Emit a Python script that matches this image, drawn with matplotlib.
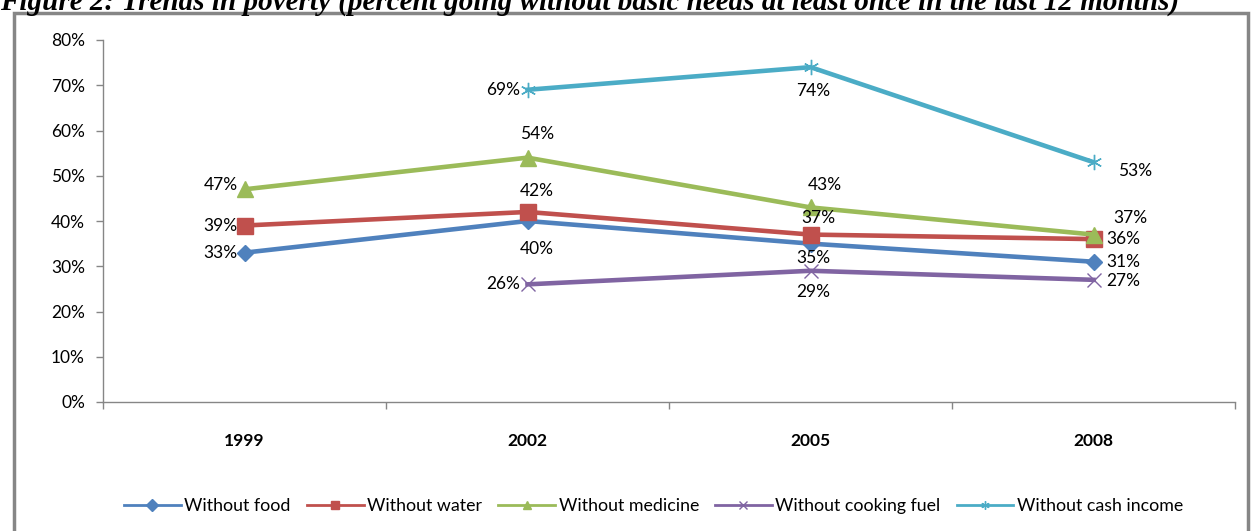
import numpy as np
import matplotlib.pyplot as plt
from matplotlib.patches import Rectangle

years = ["1999", "2002", "2005", "2008"]
series_names = ["Without food", "Without water", "Without medicine",
                "Without cooking fuel", "Without cash income"]
food = [33, 40, 35, 31]
water = [39, 42, 37, 36]
medicine = [47, 54, 43, 37]
cooking_fuel = [np.nan, 26, 29, 27]
cash_income = [np.nan, 69, 74, 53]
y_ticks = [0, 10, 20, 30, 40, 50, 60, 70, 80]

colors = ["#4F81BD", "#C0504D", "#9BBB59", "#8064A2", "#4BACC6"]
markers = ["D", "s", "^", "x", (6, 2, 0)]
msizes = [8, 11, 11, 10, 11]

# label offsets (points) per series, per year
label_pos = [
    [(-5, 0, "right"), (7, -20, "center"), (2, -10, "center"), (9, 0, "left")],
    [(-5, 0, "right"), (7, 15, "center"), (6, 12, "center"), (9, 0, "left")],
    [(-5, 3, "right"), (7, 17, "center"), (10, 16, "center"), (14, 12, "left")],
    [None, (-5, 0, "right"), (2, -15, "center"), (9, -1, "left")],
    [None, (-5, 0, "right"), (2, -17, "center"), (18, -6, "left")],
]

plt.rcParams["font.family"] = ["Lato", "DejaVu Sans"]

fig = plt.figure(figsize=(12.52, 5.31), dpi=100)
W, H = 1252, 531

# outer chart border
fig.patches.append(Rectangle((14 / W, -0.1), (1248 - 14) / W, (H - 13) / H + 0.1,
                             transform=fig.transFigure, fill=False,
                             edgecolor="#868686", linewidth=2.5))
# title is cropped at the top edge, as in the original page scan
fig.text(0, 1 - 10 / H, "Figure 2: Trends in poverty (percent going without basic needs "
         "at least once in the last 12 months)", family="Liberation Serif",
         style="italic", weight="bold", fontsize=21, va="baseline", ha="left")

ax = fig.add_axes([103 / W, 1 - 402 / H, (1235 - 103) / W, (402 - 40) / H])
x = np.arange(len(years))
all_series = [food, water, medicine, cooking_fuel, cash_income]
for i, vals in enumerate(all_series):
    ax.plot(x, vals, color=colors[i], lw=3.3, marker=markers[i], ms=msizes[i],
            mew=1, mec=colors[i], mfc=colors[i], label=series_names[i],
            zorder=3)
    for j, v in enumerate(vals):
        if np.isnan(v) or label_pos[i][j] is None:
            continue
        dx, dy, ha = label_pos[i][j]
        ax.annotate(f"{int(v)}%", (x[j], v), xytext=(dx, dy),
                    textcoords="offset points", ha=ha, va="center",
                    fontsize=12.5, color="black", zorder=4)

ax.set_xlim(-0.5, 3.5)
ax.set_ylim(0, 80)
ax.set_yticks(y_ticks)
ax.set_yticklabels([f"{t}%" for t in y_ticks], fontsize=12.5)
ax.set_xticks(x)
ax.set_xticklabels(years, fontsize=12.5, weight="bold")
ax.set_xticks(np.arange(-0.5, 4, 1), minor=True)
ax.tick_params(axis="x", which="major", length=0, pad=22)
ax.tick_params(axis="x", which="minor", length=5, color="#868686", width=1)
ax.tick_params(axis="y", length=5, color="#868686", width=1, direction="out", pad=8)
for s in ["top", "right"]:
    ax.spines[s].set_visible(False)
for s in ["left", "bottom"]:
    ax.spines[s].set_color("#868686")
    ax.spines[s].set_linewidth(1)

handles, labels = ax.get_legend_handles_labels()
leg = fig.legend(handles, labels, loc="center", bbox_to_anchor=(0.522, 1 - 506 / H),
                 ncol=5, frameon=False, fontsize=12.8, handlelength=3.2,
                 columnspacing=0.9, handletextpad=0.2)
for h in leg.legend_handles:
    h.set_markersize(6)
    h.set_linewidth(2)

fig.savefig("out.png", dpi=100)
